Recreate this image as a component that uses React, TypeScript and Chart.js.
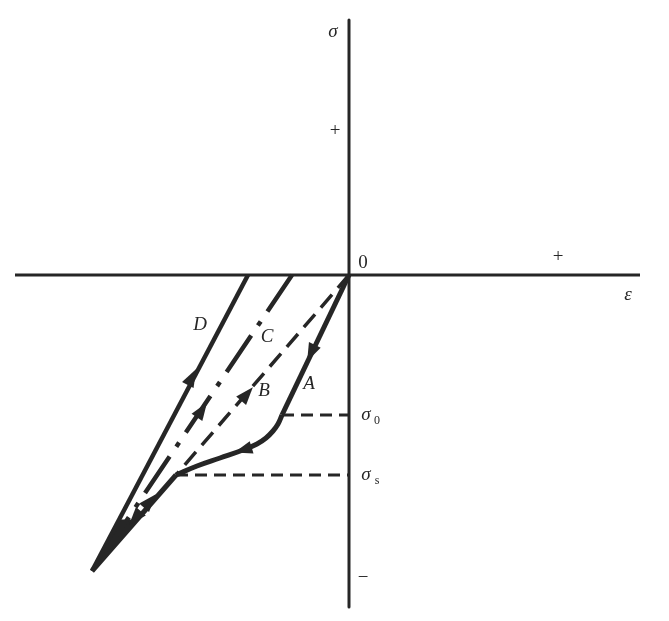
import React, { useEffect, useRef } from "react";
import { Chart, registerables } from "chart.js";

Chart.register(...registerables);

// Axis extents (strain ε horizontal, stress σ vertical), arbitrary units
const axisEpsX = [-334, 291];
const axisSigY = [255, -332];

// Loading path A (compression): straight to σ0, curved to σs, then on to the tip
const pathAStraightEps = [0, -67];
const pathAStraightSig = [0, -140];
const pathACurveEps = [-67, -71, -76, -83, -92, -106, -129, -152, -173];
const pathACurveSig = [-140, -149, -156, -163, -169, -175, -183, -191, -200];
const pathALowerEps = [-173, -257];
const pathALowerSig = [-200, -296];

// Unloading line D (solid)
const lineDEps = [-101, -257];
const lineDSig = [0, -296];

// Unloading line C (dash-dot)
const lineCEps = [-57, -243];
const lineCSig = [0, -276];

// Reloading line B (dashed)
const lineBEps = [0, -173];
const lineBSig = [0, -200];

// Converging tip of the loops
const tipEps = [-257, -229, -213, -257];
const tipSig = [-296, -245, -245, -296];

// Reference stress levels
const sigma0 = -140;
const sigma0Eps = -67;
const sigmaS = -200;
const sigmaSEps = -173;

// Arrow heads: position and direction
const arrowEps = [-38, -106, -157, -147, -102, -199, -214];
const arrowSig = [-78, -175, -102, -135, -119, -226, -243];
const arrowDEps = [-66, -23, 156, 200, 172, 83, -83];
const arrowDSig = [-140, -7, 296, 296, 201, 96, -96];

// Text labels
const labelText = ["σ", "+", "+", "0", "ε", "σ", "σ", "D", "C", "B", "A", "−"];
const labelSub = ["", "", "", "", "", "0", "s", "", "", "", "", ""];
const labelEps = [-16, -14, 209, 14, 279, 17, 17, -149, -82, -85, -40, 14];
const labelSig = [243, 144, 18, 12, -20, -140, -200, -50, -62, -116, -109, -303];
const labelItalic = [true, false, false, false, true, true, true, true, true, true, true, false];

const INK = "#262626";

const pts = (xs: number[], ys: number[]) => xs.map((x, i) => ({ x, y: ys[i] }));

const overlayPlugin = {
  id: "overlay",
  afterDatasetsDraw(chart: any) {
    const { ctx, scales } = chart;
    const sx = scales.x;
    const sy = scales.y;
    ctx.save();
    // arrow heads
    ctx.fillStyle = INK;
    for (let i = 0; i < arrowEps.length; i++) {
      const px = sx.getPixelForValue(arrowEps[i]);
      const py = sy.getPixelForValue(arrowSig[i]);
      const qx = sx.getPixelForValue(arrowEps[i] + arrowDEps[i]);
      const qy = sy.getPixelForValue(arrowSig[i] + arrowDSig[i]);
      const a = Math.atan2(qy - py, qx - px);
      const L = 18;
      const W = 6.5;
      const tx = px + Math.cos(a) * L * 0.5;
      const ty = py + Math.sin(a) * L * 0.5;
      const bx = px - Math.cos(a) * L * 0.5;
      const by = py - Math.sin(a) * L * 0.5;
      ctx.beginPath();
      ctx.moveTo(tx, ty);
      ctx.lineTo(bx - Math.sin(a) * W, by + Math.cos(a) * W);
      ctx.lineTo(bx + Math.sin(a) * W, by - Math.cos(a) * W);
      ctx.closePath();
      ctx.fill();
    }
    // labels
    ctx.textAlign = "center";
    ctx.textBaseline = "middle";
    for (let i = 0; i < labelText.length; i++) {
      const px = sx.getPixelForValue(labelEps[i]);
      const py = sy.getPixelForValue(labelSig[i]);
      ctx.font = (labelItalic[i] ? "italic " : "") + "19px 'Liberation Serif', 'DejaVu Serif', serif";
      ctx.fillStyle = INK;
      ctx.fillText(labelText[i], px, py);
      if (labelSub[i]) {
        ctx.font = "12px 'Liberation Serif', 'DejaVu Serif', serif";
        ctx.fillText(labelSub[i], px + 11, py + 6);
      }
    }
    ctx.restore();
  },
};

export default function App() {
  const ref = useRef<HTMLCanvasElement | null>(null);
  useEffect(() => {
    document.body.style.margin = "0";
    document.body.style.background = "#ffffff";
    const canvas = ref.current!;
    const base = {
      pointRadius: 0,
      fill: false,
      borderColor: INK,
      tension: 0,
      borderCapStyle: "butt",
      borderJoinStyle: "round",
    };
    const chart = new Chart(canvas, {
      type: "line",
      data: {
        datasets: [
          { ...base, data: pts(axisEpsX, [0, 0]), borderWidth: 3 },
          { ...base, data: pts([0, 0], axisSigY), borderWidth: 3 },
          { ...base, data: pts([sigma0Eps, 0], [sigma0, sigma0]), borderWidth: 3, borderDash: [12, 7] },
          { ...base, data: pts([sigmaSEps, 0], [sigmaS, sigmaS]), borderWidth: 3, borderDash: [12, 7] },
          { ...base, data: pts(lineBEps, lineBSig), borderWidth: 3.5, borderDash: [17, 9] },
          { ...base, data: pts(lineCEps, lineCSig), borderWidth: 4.5, borderDash: [44, 12, 5, 12] },
          { ...base, data: pts(lineDEps, lineDSig), borderWidth: 4.5 },
          { ...base, data: pts(pathAStraightEps, pathAStraightSig), borderWidth: 5 },
          { ...base, data: pts(pathACurveEps, pathACurveSig), borderWidth: 5, tension: 0.4 },
          { ...base, data: pts(pathALowerEps, pathALowerSig), borderWidth: 5 },
          { ...base, data: pts(tipEps, tipSig), borderWidth: 1, fill: "shape", backgroundColor: INK },
        ] as any,
      },
      options: {
        animation: false,
        responsive: false,
        devicePixelRatio: 1,
        layout: { padding: 0 },
        plugins: { legend: { display: false }, tooltip: { enabled: false } },
        scales: {
          x: { type: "linear", min: -349, max: 320, display: false },
          y: { type: "linear", min: -346, max: 275, display: false },
        },
      },
      plugins: [overlayPlugin],
    });
    return () => chart.destroy();
  }, []);
  return <canvas ref={ref} width={669} height={621} style={{ display: "block" }} />;
}
